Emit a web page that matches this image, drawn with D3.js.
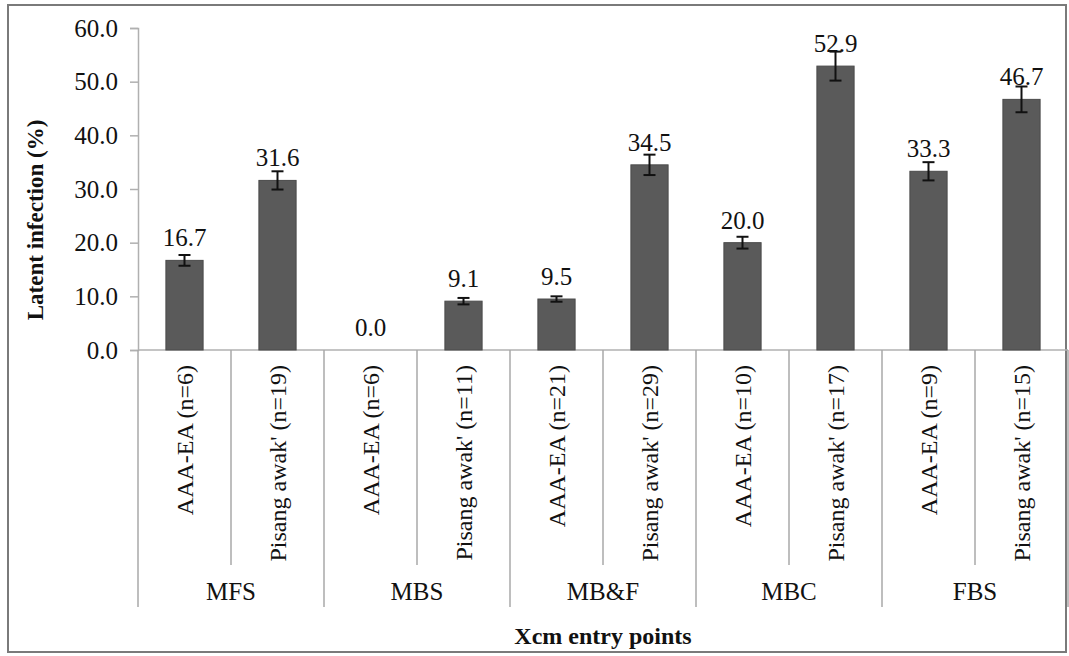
<!DOCTYPE html>
<html>
<head>
<meta charset="utf-8">
<script src="https://cdn.jsdelivr.net/npm/d3@7"></script>
<style>
  html, body { margin: 0; padding: 0; background: #fff; }
  svg { display: block; }
  text { font-family: "Liberation Serif", "Times New Roman", serif; fill: #111; }
</style>
</head>
<body>
<svg id="chart" width="1069" height="656"></svg>
<script>
// ---- data ----
const groups = ["MFS", "MBS", "MB&F", "MBC", "FBS"];
const cultivars = ["AAA-EA", "Pisang awak'"];
const nCounts = [6, 19, 6, 11, 21, 29, 10, 17, 9, 15];
const values = [16.7, 31.6, 0.0, 9.1, 9.5, 34.5, 20.0, 52.9, 33.3, 46.7];
const errors = [1.0, 1.7, 0.0, 0.6, 0.5, 1.9, 1.1, 2.7, 1.7, 2.4];
const yTicks = [0, 10, 20, 30, 40, 50, 60];
const yTitle = "Latent infection (%)";
const xTitle = "Xcm entry points";

// ---- build rows ----
const rows = values.map((v, i) => ({
  id: i,
  group: groups[Math.floor(i / 2)],
  label: cultivars[i % 2] + " (n=" + nCounts[i] + ")",
  value: v,
  err: errors[i]
}));

const svg = d3.select("#chart");
const plot = { left: 138, right: 1068, top: 28, bottom: 350 };

// frame
svg.append("rect")
  .attr("x", 8).attr("y", 5).attr("width", 1058).attr("height", 647)
  .attr("fill", "#fff").attr("stroke", "#7a7a7a").attr("stroke-width", 2);

const x = d3.scaleBand()
  .domain(rows.map(d => d.id))
  .range([plot.left, plot.right])
  .paddingInner(0.6).paddingOuter(0.3);
const step = x.step();

const y = d3.scaleLinear().domain([0, 60]).range([plot.bottom, plot.top]);

// y axis
const yAxis = d3.axisLeft(y).tickValues(yTicks).tickSize(8).tickPadding(12)
  .tickFormat(d => d.toFixed(1));
const gy = svg.append("g").attr("transform", `translate(${plot.left},0)`).call(yAxis);
gy.select(".domain").attr("stroke", "#b0b0b0").attr("stroke-width", 1.5);
gy.selectAll(".tick line").attr("stroke", "#b0b0b0").attr("stroke-width", 1.5);
gy.selectAll(".tick text")
  .style("font-family", '"Liberation Serif", serif')
  .style("font-size", "25px").attr("fill", "#222");

// x axis baseline
svg.append("line")
  .attr("x1", plot.left).attr("x2", plot.right)
  .attr("y1", y(0)).attr("y2", y(0))
  .attr("stroke", "#b0b0b0").attr("stroke-width", 1.5);

// separators
const boundaries = d3.range(rows.length + 1);
svg.append("g").selectAll("line").data(boundaries).join("line")
  .attr("x1", i => plot.left + (x.paddingOuter() * 0 + i) * step)
  .attr("x2", i => plot.left + i * step)
  .attr("y1", y(0))
  .attr("y2", i => (i % 2 === 0) ? 607 : 565)
  .attr("stroke", "#a8a8a8").attr("stroke-width", 1.5);

// bars
svg.append("g").selectAll("rect").data(rows).join("rect")
  .attr("x", d => x(d.id))
  .attr("width", x.bandwidth())
  .attr("y", d => y(d.value))
  .attr("height", d => y(0) - y(d.value))
  .attr("fill", "#5a5a5a")
  .attr("stroke", "#4a4a4a").attr("stroke-width", 1);

// error bars
const eb = svg.append("g").attr("stroke", "#111").attr("stroke-width", 2);
rows.filter(d => d.err > 0).forEach(d => {
  const cx = x(d.id) + x.bandwidth() / 2;
  eb.append("line").attr("x1", cx).attr("x2", cx)
    .attr("y1", y(d.value + d.err)).attr("y2", y(d.value - d.err));
  [d.value + d.err, d.value - d.err].forEach(v => {
    eb.append("line").attr("x1", cx - 6).attr("x2", cx + 6)
      .attr("y1", y(v)).attr("y2", y(v));
  });
});

// value labels
svg.append("g").selectAll("text").data(rows).join("text")
  .attr("x", d => x(d.id) + x.bandwidth() / 2)
  .attr("y", d => y(d.value) - 14)
  .attr("text-anchor", "middle")
  .style("font-size", "25px")
  .text(d => d.value.toFixed(1));

// rotated category labels
svg.append("g").selectAll("text").data(rows).join("text")
  .attr("transform", d => `translate(${x(d.id) + x.bandwidth() / 2},365) rotate(-90)`)
  .attr("text-anchor", "end")
  .attr("dy", "0.35em")
  .style("font-size", "24px")
  .text(d => d.label);

// group labels
svg.append("g").selectAll("text").data(groups).join("text")
  .attr("x", (g, i) => plot.left + (2 * i + 1) * step)
  .attr("y", 600)
  .attr("text-anchor", "middle")
  .style("font-size", "25px")
  .text(g => g);

// axis titles
svg.append("text")
  .attr("transform", `translate(35,220) rotate(-90)`)
  .attr("text-anchor", "middle").attr("dy", "0.35em")
  .style("font-size", "23px").style("font-weight", "bold")
  .text(yTitle);

svg.append("text")
  .attr("x", (plot.left + plot.right) / 2).attr("y", 644)
  .attr("text-anchor", "middle")
  .style("font-size", "24px").style("font-weight", "bold")
  .text(xTitle);
</script>
</body>
</html>
